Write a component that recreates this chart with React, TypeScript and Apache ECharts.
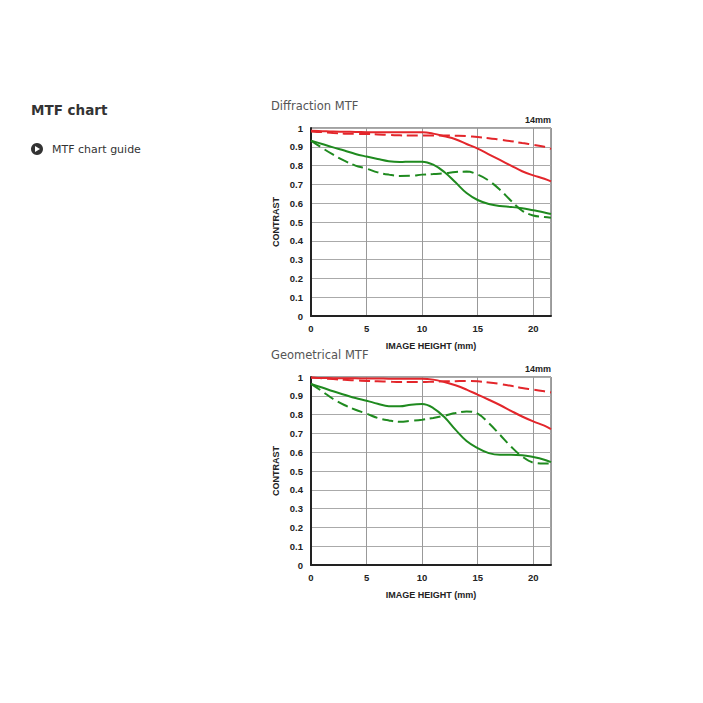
import React, { useEffect, useRef } from "react";
import * as echarts from "echarts";

const xs = [0, 1, 2, 3, 4, 5, 6, 7, 8, 9, 10, 11, 12, 13, 14, 15, 16, 17, 18, 19, 20, 21, 21.6];

// Diffraction MTF
const diffRedSolid = [0.985, 0.983, 0.981, 0.98, 0.979, 0.978, 0.977, 0.977, 0.977, 0.977, 0.977, 0.97, 0.956, 0.94, 0.915, 0.89, 0.86, 0.83, 0.8, 0.77, 0.748, 0.73, 0.716];
const diffRedDashed = [0.982, 0.978, 0.973, 0.97, 0.969, 0.968, 0.966, 0.963, 0.961, 0.96, 0.96, 0.96, 0.96, 0.959, 0.957, 0.952, 0.946, 0.938, 0.93, 0.92, 0.911, 0.9, 0.889];
const diffGreenSolid = [0.933, 0.915, 0.897, 0.88, 0.862, 0.848, 0.835, 0.823, 0.819, 0.821, 0.821, 0.805, 0.766, 0.711, 0.654, 0.617, 0.596, 0.585, 0.58, 0.573, 0.562, 0.551, 0.543];
const diffGreenDashed = [0.933, 0.894, 0.858, 0.826, 0.8, 0.784, 0.764, 0.752, 0.745, 0.746, 0.752, 0.755, 0.759, 0.766, 0.768, 0.752, 0.72, 0.672, 0.613, 0.56, 0.535, 0.527, 0.523];

// Geometrical MTF
const geoRedSolid = [0.996, 0.995, 0.994, 0.993, 0.993, 0.992, 0.992, 0.991, 0.991, 0.991, 0.991, 0.986, 0.973, 0.956, 0.933, 0.906, 0.879, 0.851, 0.82, 0.79, 0.764, 0.741, 0.723];
const geoRedDashed = [0.998, 0.993, 0.989, 0.985, 0.982, 0.979, 0.977, 0.975, 0.973, 0.973, 0.973, 0.975, 0.977, 0.978, 0.979, 0.977, 0.971, 0.963, 0.953, 0.941, 0.933, 0.924, 0.918];
const geoGreenSolid = [0.963, 0.944, 0.924, 0.906, 0.888, 0.874, 0.858, 0.845, 0.844, 0.853, 0.856, 0.835, 0.787, 0.72, 0.66, 0.622, 0.595, 0.586, 0.586, 0.584, 0.574, 0.56, 0.547];
const geoGreenDashed = [0.963, 0.924, 0.883, 0.851, 0.826, 0.805, 0.782, 0.769, 0.762, 0.767, 0.773, 0.782, 0.794, 0.808, 0.817, 0.805, 0.755, 0.693, 0.63, 0.577, 0.545, 0.54, 0.54];

const xTicks = [0, 5, 10, 15, 20];
const chartTitles = ["Diffraction MTF", "Geometrical MTF"];
const focalLabel = "14mm";
const xAxisName = "IMAGE HEIGHT (mm)";
const yAxisName = "CONTRAST";
const pageTitle = "MTF chart";
const guideLabel = "MTF chart guide";

const RED = "#e3262b";
const GREEN = "#1f8a1f";

const pair = (ys: number[]) => xs.map((x, i) => [x, ys[i]]);

export default function App() {
  const ref = useRef<HTMLDivElement>(null);
  useEffect(() => {
    if (!ref.current) return;
    const chart = echarts.init(ref.current, undefined, { renderer: "svg" });
    const grids = [
      { left: 311, top: 128, width: 240, height: 188 },
      { left: 311, top: 377, width: 240, height: 188 },
    ];
    const labelFont = "'Liberation Sans', Arial, sans-serif";
    const xAxes = grids.map((_, i) => ({
      type: "value",
      gridIndex: i,
      min: 0,
      max: 21.6,
      interval: 5,
      axisLine: { show: true, onZero: false, lineStyle: { color: "#222", width: 2 } },
      axisTick: { show: false },
      axisLabel: {
        showMaxLabel: false,
        color: "#222",
        fontSize: 9.5,
        fontWeight: "bold",
        fontFamily: labelFont,
        margin: 7,
        formatter: (v: number) => (xTicks.includes(v) ? String(v) : ""),
      },
      splitLine: { show: true, lineStyle: { color: "#999", width: 1 } },
      name: xAxisName,
      nameLocation: "middle",
      nameGap: 25,
      nameTextStyle: { color: "#222", fontSize: 9, fontWeight: "bold", fontFamily: labelFont },
    }));
    const yAxes = grids.map((_, i) => ({
      type: "value",
      gridIndex: i,
      min: 0,
      max: 1,
      interval: 0.1,
      axisLine: { show: true, onZero: false, lineStyle: { color: "#222", width: 2 } },
      axisTick: { show: false },
      axisLabel: {
        color: "#222",
        fontSize: 9.5,
        fontWeight: "bold",
        fontFamily: labelFont,
        margin: 8,
        formatter: (v: number) => (v === 0 ? "0" : v >= 0.999 ? "1" : v.toFixed(1)),
      },
      splitLine: { show: true, lineStyle: { color: "#aaa", width: 1 } },
      name: yAxisName,
      nameLocation: "middle",
      nameGap: 31,
      nameRotate: 90,
      nameTextStyle: { color: "#222", fontSize: 9, fontWeight: "bold", fontFamily: labelFont },
    }));
    const mk = (data: number[], idx: number, color: string, dashed: boolean) => ({
      type: "line",
      xAxisIndex: idx,
      yAxisIndex: idx,
      data: pair(data),
      smooth: 0.4,
      showSymbol: false,
      symbol: "none",
      lineStyle: { color, width: 2, type: dashed ? [11, 5] : "solid" },
      z: dashed ? 3 : 4,
    });
    const series = [
      mk(diffRedDashed, 0, RED, true),
      mk(diffRedSolid, 0, RED, false),
      mk(diffGreenDashed, 0, GREEN, true),
      mk(diffGreenSolid, 0, GREEN, false),
      mk(geoRedDashed, 1, RED, true),
      mk(geoRedSolid, 1, RED, false),
      mk(geoGreenDashed, 1, GREEN, true),
      mk(geoGreenSolid, 1, GREEN, false),
    ];
    const titleFont = "'DejaVu Sans', Verdana, sans-serif";
    chart.setOption({
      animation: false,
      backgroundColor: "#fff",
      grid: grids.map((g) => ({ ...g, show: true, borderColor: "#444", borderWidth: 1, containLabel: false })),
      xAxis: xAxes,
      yAxis: yAxes,
      series,
      graphic: [
        {
          type: "text",
          left: 31,
          top: 103,
          style: { text: pageTitle, fill: "#333", font: `bold 13.5px ${titleFont}` },
        },
        {
          type: "circle",
          shape: { cx: 37, cy: 149, r: 6 },
          style: { fill: "#333" },
        },
        {
          type: "polygon",
          shape: { points: [[35, 146], [35, 152], [40, 149]] },
          style: { fill: "#fff" },
        },
        {
          type: "text",
          left: 52,
          top: 144,
          style: { text: guideLabel, fill: "#333", font: `11px ${titleFont}` },
        },
        ...chartTitles.map((t, i) => ({
          type: "text",
          left: 271,
          top: i === 0 ? 100 : 349,
          style: { text: t, fill: "#555", font: `11.5px ${titleFont}` },
        })),
        ...grids.map((g) => ({
          type: "text",
          x: 551,
          y: g.top - 4,
          style: {
            text: focalLabel,
            fill: "#222",
            font: `bold 9px ${labelFont}`,
            align: "right",
            verticalAlign: "bottom",
          },
        })),
      ],
    });
    return () => chart.dispose();
  }, []);
  return (
    <div
      ref={ref}
      style={{ position: "fixed", left: 0, top: 0, width: 703, height: 703 }}
    />
  );
}
